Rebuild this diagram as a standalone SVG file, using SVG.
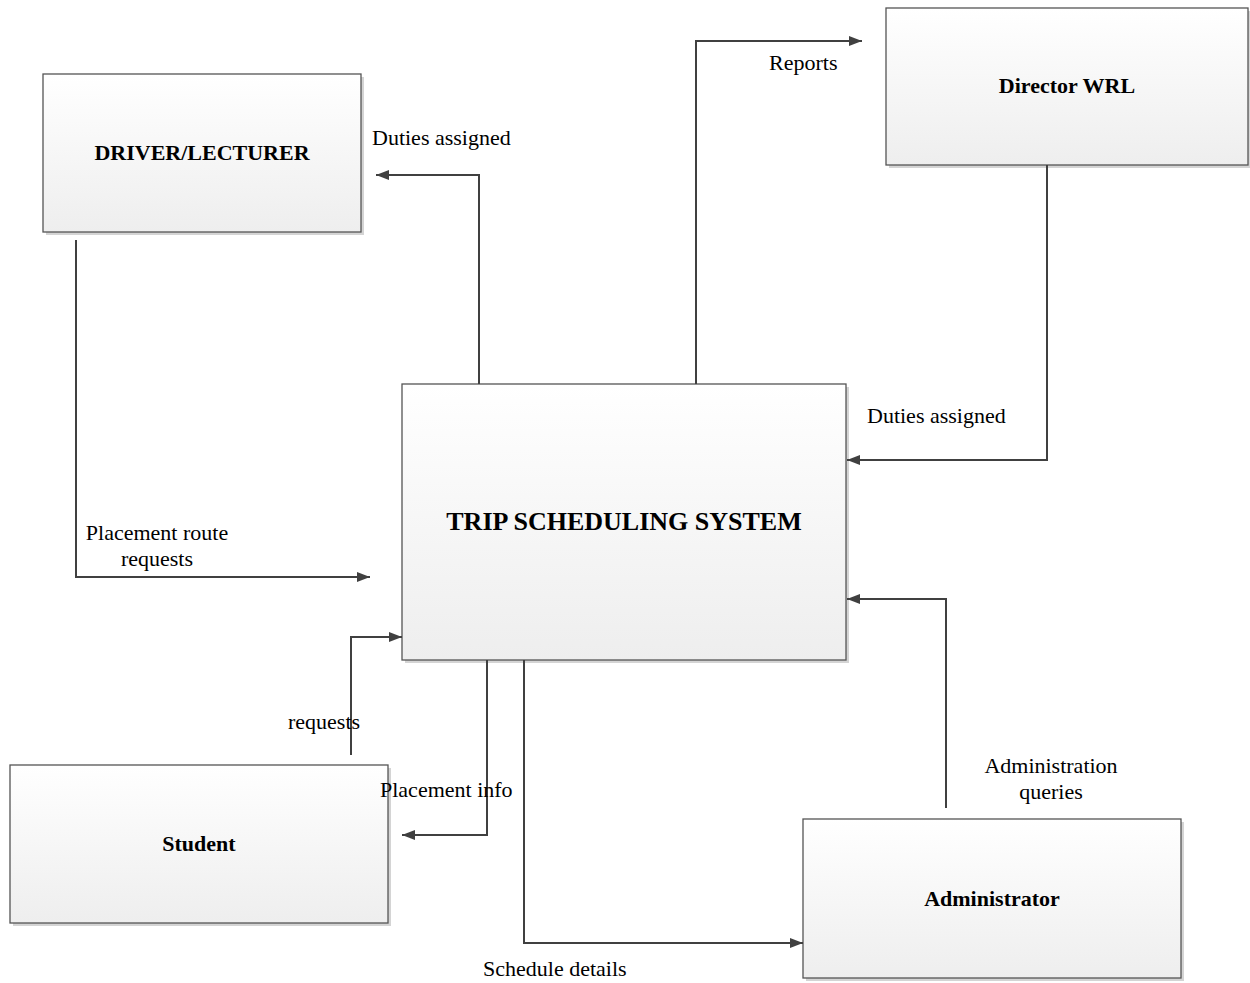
<svg xmlns="http://www.w3.org/2000/svg" width="1250" height="983" viewBox="0 0 1250 983">
<style>
.box{fill:url(#g);stroke:#555;stroke-width:1.3}
.sh{fill:#d4d4d4}
.t{font-family:"Liberation Serif",serif;font-weight:bold;font-size:22px;fill:#000;text-anchor:middle}
.l{font-family:"Liberation Serif",serif;font-size:22px;fill:#000}
.c{fill:none;stroke:#404040;stroke-width:2;marker-end:url(#a)}
</style>
<defs>
<linearGradient id="g" x1="0" y1="0" x2="0" y2="1">
<stop offset="0" stop-color="#ffffff"/>
<stop offset="1" stop-color="#eeeeee"/>
</linearGradient>
<marker id="a" viewBox="0 0 13 10" refX="13" refY="5" markerWidth="13" markerHeight="10" markerUnits="userSpaceOnUse" orient="auto">
<path d="M0,0 L13,5 L0,10 Z" fill="#404040"/>
</marker>
</defs>
<rect width="1250" height="983" fill="#fff"/>
<g id="driver">
<rect class="sh" x="46" y="77" width="318" height="158"/>
<rect class="box" x="43" y="74" width="318" height="158"/>
<text class="t" x="202" y="160">DRIVER/LECTURER</text>
</g>
<g id="director">
<rect class="sh" x="889" y="11" width="362" height="157"/>
<rect class="box" x="886" y="8" width="362" height="157"/>
<text class="t" x="1067" y="93">Director WRL</text>
</g>
<g id="system">
<rect class="sh" x="405" y="387" width="444" height="276"/>
<rect class="box" x="402" y="384" width="444" height="276"/>
<text class="t" x="624" y="530" style="font-size:26px">TRIP SCHEDULING SYSTEM</text>
</g>
<g id="student">
<rect class="sh" x="13" y="768" width="378" height="158"/>
<rect class="box" x="10" y="765" width="378" height="158"/>
<text class="t" x="199" y="851">Student</text>
</g>
<g id="administrator">
<rect class="sh" x="806" y="822" width="378" height="159"/>
<rect class="box" x="803" y="819" width="378" height="159"/>
<text class="t" x="992" y="906">Administrator</text>
</g>
<g id="connectors">
<path class="c" d="M479,384 V175 H376"/>
<path class="c" d="M696,384 V41 H862"/>
<path class="c" d="M1047,165 V460 H847"/>
<path class="c" d="M76,240 V577 H370"/>
<path class="c" d="M351,755 V637 H402"/>
<path class="c" d="M487,660 V835 H402"/>
<path class="c" d="M524,660 V943 H803"/>
<path class="c" d="M946,808 V599 H847"/>
</g>
<g id="labels">
<text class="l" x="372" y="145">Duties assigned</text>
<text class="l" x="769" y="70">Reports</text>
<text class="l" x="867" y="423">Duties assigned</text>
<text class="l" x="157" y="540" text-anchor="middle">Placement route</text>
<text class="l" x="157" y="566" text-anchor="middle">requests</text>
<text class="l" x="288" y="729">requests</text>
<text class="l" x="380" y="797">Placement info</text>
<text class="l" x="483" y="976">Schedule details</text>
<text class="l" x="1051" y="773" text-anchor="middle">Administration</text>
<text class="l" x="1051" y="799" text-anchor="middle">queries</text>
</g>
</svg>
